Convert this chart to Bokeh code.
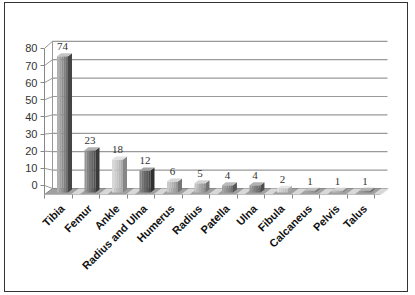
import math
from bokeh.plotting import figure
from bokeh.models import Range1d, LinearAxis, ColumnDataSource, LabelSet, FixedTicker
from bokeh.embed import file_html
from bokeh.resources import INLINE

# ---- data ----
categories = ["Tibia", "Femur", "Ankle", "Radius and Ulna", "Humerus", "Radius",
              "Patella", "Ulna", "Fibula", "Calcaneus", "Pelvis", "Talus"]
counts = [74, 23, 18, 12, 6, 5, 4, 4, 2, 1, 1, 1]
y_ticks = [0, 10, 20, 30, 40, 50, 60, 70, 80]

# ---- styles ----
left_cols = ["#b0b0b0", "#959595", "#d8d8d8", "#858585", "#cacaca", "#c4c4c4",
             "#a4a4a4", "#989898", "#dedede", "#aaaaaa", "#c4c4c4", "#9c9c9c"]
right_cols = ["#707070", "#555555", "#acacac", "#4a4a4a", "#989898", "#929292",
              "#767676", "#686868", "#c4c4c4", "#8a8a8a", "#a4a4a4", "#7c7c7c"]
side_cols = ["#454545", "#3a3a3a", "#868686", "#303030", "#747474", "#727272",
             "#585858", "#4c4c4c", "#a6a6a6", "#6c6c6c", "#848484", "#626262"]

PXX = 27.49   # px per category unit
PXY = 1.84    # px per value unit
BAR_HALF = 5.5 / PXX
SIDE_DX = 4 / PXX
SIDE_DY = 3 / PXY
DEPTH_X = 8 / PXX
DEPTH_Y = 4 / PXY
GRID_RIGHT = 11.82
FLOOR_RIGHT = 11.55

x_range = Range1d(-0.655, 11.93)
y_range = Range1d(-1.087, 88.04)
front_range = Range1d(-5.26, 90.51)

p = figure(width=404, height=290, x_range=x_range, y_range=y_range,
           output_backend="svg", toolbar_location=None, y_axis_location=None,
           min_border_left=39, min_border_right=19, min_border_top=27,
           min_border_bottom=99)
p.extra_y_ranges = {"front": front_range}
p.outline_line_color = None
p.xgrid.visible = False
p.ygrid.visible = False
p.background_fill_color = "white"
p.border_fill_color = "white"
p.styles = {"border": "1px solid #333333", "margin": "2px 0 0 4px"}

def lerp_hex(a, b, t):
    ca = [int(a[i:i + 2], 16) for i in (1, 3, 5)]
    cb = [int(b[i:i + 2], 16) for i in (1, 3, 5)]
    return "#%02x%02x%02x" % tuple(int(round(x + (y - x) * t)) for x, y in zip(ca, cb))

def to_main(v):
    ys, ye = y_range.start, y_range.end
    fs, fe = front_range.start, front_range.end
    return ys + (v - fs) * (ye - ys) / (fe - fs)

x0 = x_range.start
yb = y_range.start

# back wall and side connectors
p.segment(x0=[x0 + DEPTH_X], y0=[DEPTH_Y], x1=[x0 + DEPTH_X], y1=[y_ticks[-1] + DEPTH_Y],
          line_color="#999999", line_width=1)
p.segment(x0=[x0 + DEPTH_X] * (len(y_ticks) - 1), y0=[v + DEPTH_Y for v in y_ticks[1:]],
          x1=[GRID_RIGHT] * (len(y_ticks) - 1), y1=[v + DEPTH_Y for v in y_ticks[1:]],
          line_color="#999999", line_width=1.2)
p.segment(x0=[x0] * len(y_ticks), y0=[to_main(v) for v in y_ticks],
          x1=[x0 + DEPTH_X] * len(y_ticks), y1=[v + DEPTH_Y for v in y_ticks],
          line_color="#999999", line_width=1)

# floor
p.patch(x=[x0, FLOOR_RIGHT, GRID_RIGHT, x0 + DEPTH_X],
        y=[yb, yb, DEPTH_Y, DEPTH_Y], fill_color="#a0a0a0", line_color="#888888", line_width=1)
hx, hy = [], []
for i in range(len(categories)):
    a = i + 0.3
    b = i + 0.62
    hx.append([a, b, b + DEPTH_X, a + DEPTH_X])
    hy.append([yb, yb, DEPTH_Y, DEPTH_Y])
p.patches(xs=hx, ys=hy, fill_color="#e6e6e6", fill_alpha=0.8, line_color=None)

# bars (front face as gradient strips, side and top faces)
N = 5
sl, sr, st, sc = [], [], [], []
sxs, sys_, scol = [], [], []
txs, tys, tcol = [], [], []
for i, v in enumerate(counts):
    l = i - BAR_HALF
    r = i + BAR_HALF
    w = (r - l) / N
    for k in range(N):
        sl.append(l + k * w)
        sr.append(l + (k + 1) * w + 0.002)
        st.append(v)
        sc.append(lerp_hex(left_cols[i], right_cols[i], k / (N - 1)))
    sxs.append([r, r + SIDE_DX, r + SIDE_DX, r])
    sys_.append([0, SIDE_DY, v + SIDE_DY, v])
    scol.append(side_cols[i])
    txs.append([l, r, r + SIDE_DX, l + SIDE_DX])
    tys.append([v, v, v + SIDE_DY, v + SIDE_DY])
    tcol.append(lerp_hex(left_cols[i], "#ffffff", 0.25))

p.quad(left=sl, right=sr, bottom=[0] * len(sl), top=st, fill_color=sc, line_color=None)
p.patches(xs=sxs, ys=sys_, fill_color=scol, line_color=None)
p.patches(xs=txs, ys=tys, fill_color=tcol, line_color=None)

# value labels
src = ColumnDataSource(dict(x=list(range(len(categories))), y=counts,
                            t=[str(c) for c in counts]))
p.add_layout(LabelSet(x="x", y="y", text="t", source=src, y_offset=6,
                      text_align="center", text_baseline="bottom",
                      text_font="Liberation Sans", text_font_size="11px",
                      text_color="#333333"))

# y axis (front)
yax = LinearAxis(y_range_name="front", ticker=FixedTicker(ticks=y_ticks),
                 bounds=(front_range.start, y_ticks[-1]))
yax.axis_line_color = "#888888"
yax.major_tick_line_color = "#888888"
yax.major_tick_out = 4
yax.major_tick_in = 0
yax.minor_tick_line_color = None
yax.major_label_standoff = 3
yax.major_label_text_font = "Liberation Sans"
yax.major_label_text_font_size = "11px"
yax.major_label_text_color = "#333333"
p.add_layout(yax, "left")

# x axis
xax = p.xaxis[0]
xax.ticker = FixedTicker(ticks=list(range(len(categories))),
                         minor_ticks=[i - 0.64 for i in range(len(categories) + 1)])
xax.major_label_overrides = {i: c for i, c in enumerate(categories)}
xax.major_label_orientation = math.pi / 4
xax.major_tick_line_color = None
xax.minor_tick_line_color = "#888888"
xax.minor_tick_out = 4
xax.minor_tick_in = 0
xax.axis_line_color = None
xax.major_label_standoff = 6
xax.major_label_text_font = "Liberation Sans"
xax.major_label_text_font_style = "bold"
xax.major_label_text_font_size = "11px"
xax.major_label_text_color = "#111111"

open("out.html", "w").write(file_html(p, INLINE))
